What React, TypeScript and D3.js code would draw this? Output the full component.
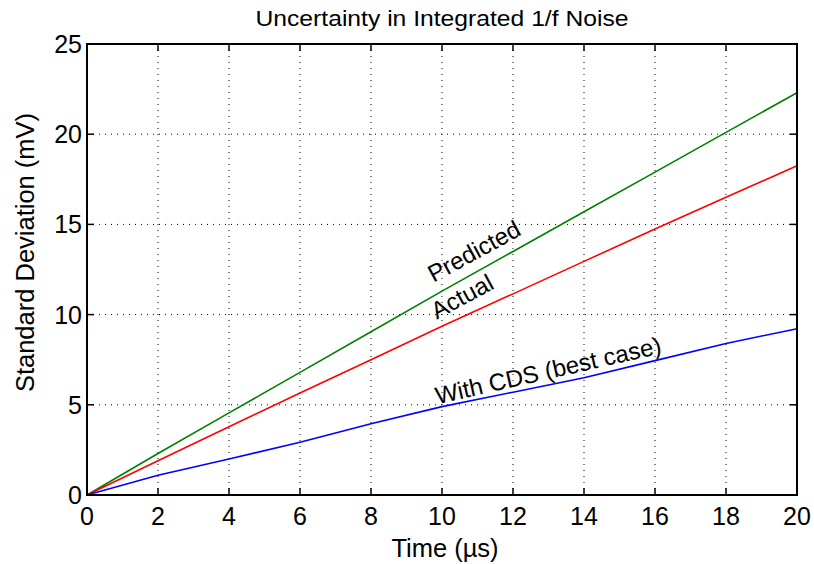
import React from "react";
import * as d3 from "d3";

// Integrated 1/f noise: standard deviation (mV) vs. integration time (µs)
const timeUs = [0, 2, 4, 6, 8, 10, 12, 14, 16, 18, 20];
const predicted = [0, 2.3, 4.55, 6.8, 9.05, 11.3, 13.5, 15.7, 17.9, 20.1, 22.3];
const actual = [0, 1.9, 3.78, 5.65, 7.5, 9.35, 11.15, 12.95, 14.75, 16.5, 18.25];
const withCds = [0, 1.1, 2.0, 2.92, 3.95, 4.9, 5.7, 6.5, 7.45, 8.4, 9.22];

const xTicks = [0, 2, 4, 6, 8, 10, 12, 14, 16, 18, 20];
const yTicks = [0, 5, 10, 15, 20, 25];

const series = [
  { name: "Predicted", values: predicted, color: "#008000" },
  { name: "Actual", values: actual, color: "#ff0000" },
  { name: "With CDS (best case)", values: withCds, color: "#0000ff" },
];

const W = 814;
const H = 564;
const left = 87;
const right = 797;
const top = 44;
const bottom = 495;
const font = "Arial, 'Liberation Sans', Helvetica, sans-serif";

// convert a horizontal pixel position back into time units for label placement
function worldX(px: number) {
  return ((px - left) / (right - left)) * 20;
}

export default function App() {
  const x = d3.scaleLinear().domain([0, 20]).range([left, right]);
  const y = d3.scaleLinear().domain([0, 25]).range([bottom, top]);

  const line = (vals: number[]) =>
    d3
      .line<number>()
      .x((_, i) => x(timeUs[i]))
      .y((v) => y(v))(vals) || "";

  const tickLen = 7;

  return (
    <svg width={W} height={H} style={{ position: "absolute", left: 0, top: 0 }}>
      <rect x={0} y={0} width={W} height={H} fill="#fff" />
      {/* grid */}
      <g stroke="#000" strokeWidth={1} strokeDasharray="1,5">
        {xTicks.slice(1, -1).map((t) => (
          <line key={"gx" + t} x1={x(t)} x2={x(t)} y1={top} y2={bottom} />
        ))}
        {yTicks.slice(1, -1).map((t) => (
          <line key={"gy" + t} x1={left} x2={right} y1={y(t)} y2={y(t)} />
        ))}
      </g>
      {/* data lines */}
      {series.map((s) => (
        <path key={s.name} d={line(s.values)} fill="none" stroke={s.color} strokeWidth={1.6} />
      ))}
      {/* ticks */}
      <g stroke="#000" strokeWidth={1.5}>
        {xTicks.map((t) => (
          <g key={"tx" + t}>
            <line x1={x(t)} x2={x(t)} y1={bottom} y2={bottom - tickLen} />
            <line x1={x(t)} x2={x(t)} y1={top} y2={top + tickLen} />
          </g>
        ))}
        {yTicks.map((t) => (
          <g key={"ty" + t}>
            <line x1={left} x2={left + tickLen} y1={y(t)} y2={y(t)} />
            <line x1={right} x2={right - tickLen} y1={y(t)} y2={y(t)} />
          </g>
        ))}
      </g>
      <rect x={left} y={top} width={right - left} height={bottom - top} fill="none" stroke="#000" strokeWidth={2} />
      {/* tick labels */}
      <g fontFamily={font} fontSize={25} fill="#000">
        {xTicks.map((t) => (
          <text key={"lx" + t} x={x(t)} y={bottom + 30} textAnchor="middle">
            {t}
          </text>
        ))}
        {yTicks.map((t) => (
          <text key={"ly" + t} x={left - 5} y={y(t) + 9} textAnchor="end">
            {t}
          </text>
        ))}
      </g>
      {/* titles */}
      <text x={442} y={26} textAnchor="middle" fontFamily={font} fontSize={22} textLength={373} lengthAdjust="spacingAndGlyphs">
        Uncertainty in Integrated 1/f Noise
      </text>
      <text x={445} y={557} textAnchor="middle" fontFamily={font} fontSize={25.5}>
        Time (µs)
      </text>
      <text
        transform={`translate(34,${(top + bottom) / 2 - 17}) rotate(-90)`}
        textAnchor="middle"
        fontFamily={font}
        fontSize={25.5}
      >
        Standard Deviation (mV)
      </text>
      {/* curve annotations */}
      <g fontFamily={font} fontSize={24} fill="#000" textAnchor="middle">
        <text transform={`translate(${x(worldX(478))},${y(13.1)}) rotate(-28.5)`}>Predicted</text>
        <text transform={`translate(${x(worldX(466))},${y(10.6)}) rotate(-28.5)`}>Actual</text>
        <text transform={`translate(${x(worldX(550))},${y(6.45)}) rotate(-12.8)`}>With CDS (best case)</text>
      </g>
    </svg>
  );
}
